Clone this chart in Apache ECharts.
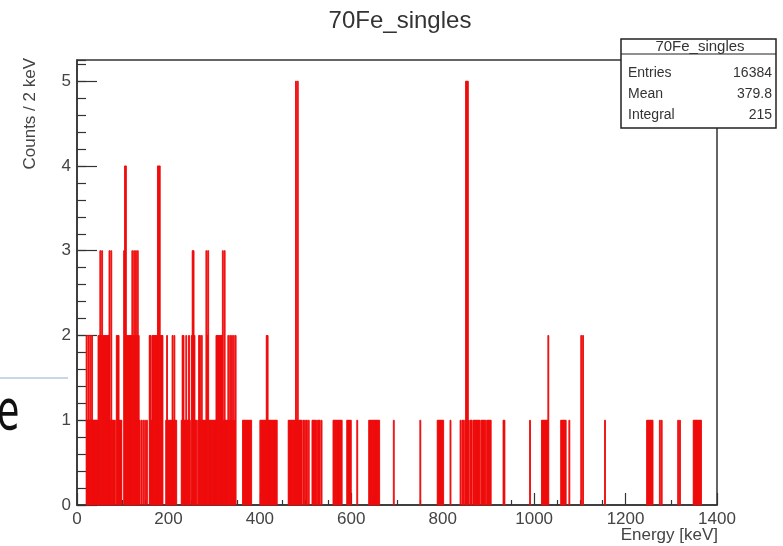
<!DOCTYPE html>
<html><head><meta charset="utf-8">
<script src="https://cdn.jsdelivr.net/npm/echarts@6/dist/echarts.min.js"></script>
<style>html,body{margin:0;padding:0;background:#fff}#c{width:783px;height:546px}</style>
</head><body><div id="c"></div>
<script>
// ---- data (bin centres in keV, 2 keV bins) ----
const chartTitle = '70Fe_singles';
const xAxisTitle = 'Energy [keV]';
const yAxisTitle = 'Counts / 2 keV';
const xMin = 0, xMax = 1400, xStep = 200;
const yMin = 0, yMax = 5.25, yStep = 1;
const binWidth = 2;

const binsCount5 = [479, 483, 851, 853, 855];
const binsCount4 = [105, 107, 177, 179, 181];
const binsCount3 = [51, 55, 71, 75, 103, 121, 125, 129, 133, 253, 255, 283, 287, 319, 323];
const binsCount2 = [21, 25, 29, 33, 47, 49, 53, 57, 59, 61, 63, 65, 67, 69, 87, 89, 91,
  109, 111, 113, 115, 117, 119, 123, 127, 131, 135,
  159, 161, 165, 167, 169, 171, 173, 175, 183, 185, 187,
  197, 209, 213, 231, 233, 239, 245, 251, 257, 267, 269, 273, 285,
  305, 307, 309, 311, 313, 315, 317, 331, 335, 339, 343, 347, 415, 417,
  1031, 1103, 1107];
const binsCount1 = [23, 27, 31, 35, 37, 39, 41, 43, 45, 73, 77, 79, 81, 83, 93, 95, 97, 137,
  141, 145, 149, 153, 163, 195, 199, 201, 203, 205, 207, 211, 215, 217,
  229, 235, 237, 241, 243, 247, 259, 261, 265, 271, 275, 277, 279, 281,
  289, 291, 293, 295, 297, 299, 301, 303, 321, 325, 327, 329, 333, 337, 341, 345,
  363, 365, 367, 369, 371, 373, 375, 377, 379, 381,
  401, 403, 405, 407, 409, 411, 413, 419, 421, 423, 425, 427, 429, 431, 433, 435, 437,
  463, 465, 467, 469, 471, 473, 475, 477, 481, 485, 487, 489, 491, 495, 497, 501, 503, 507,
  515, 517, 519, 521, 523, 527, 529, 531, 535,
  561, 563, 565, 567, 569, 571, 573, 575, 577, 579, 591, 593, 595, 597, 599, 613,
  639, 641, 643, 645, 647, 649, 651, 653, 655, 657, 659, 661, 693, 751,
  789, 791, 793, 795, 797, 799, 801, 817,
  839, 843, 845, 849, 857, 861, 863, 867, 869, 871, 873, 875, 877, 879, 881, 885, 887, 889,
  891, 893, 897, 899, 901, 903, 905, 933, 935, 991,
  1017, 1019, 1021, 1023, 1025, 1027, 1029, 1059, 1061, 1063, 1065, 1067, 1069, 1077, 1155,
  1247, 1249, 1251, 1253, 1255, 1257, 1259, 1275, 1279, 1315, 1319,
  1349, 1351, 1353, 1355, 1357, 1359, 1361, 1363, 1365];

const statsNames = ['Entries', 'Mean', 'Integral'];
const statsValues = ['16384', '379.8', '215'];

// ---- build ----
const histData = [];
[[binsCount1, 1], [binsCount2, 2], [binsCount3, 3], [binsCount4, 4], [binsCount5, 5]]
  .forEach(([arr, c]) => arr.forEach(e => histData.push([e, c])));
histData.sort((a, b) => a[0] - b[0]);

const FONT = "'Liberation Sans', Arial, sans-serif";
const TXT = '#333';

const statsGraphics = [
  { type: 'rect', shape: { x: 621, y: 39, width: 155, height: 89 }, style: { fill: '#fff', stroke: '#222', lineWidth: 1.5 }, z: 100 },
  { type: 'line', shape: { x1: 621, y1: 54, x2: 776, y2: 54 }, style: { stroke: '#222', lineWidth: 1.2 }, z: 101 },
  { type: 'text', x: 700, y: 47, z: 101, style: { text: chartTitle, font: '15px ' + FONT, fill: TXT, align: 'center', verticalAlign: 'middle' } }
];
statsNames.forEach((n, i) => {
  const y = 73 + i * 21;
  statsGraphics.push({ type: 'text', x: 628, y: y, z: 101, style: { text: n, font: '14px ' + FONT, fill: TXT, align: 'left', verticalAlign: 'middle' } });
  statsGraphics.push({ type: 'text', x: 772, y: y, z: 101, style: { text: statsValues[i], font: '14px ' + FONT, fill: TXT, align: 'right', verticalAlign: 'middle' } });
});

const chart = echarts.init(document.getElementById('c'), null, { renderer: 'canvas' });
chart.setOption({
  animation: false,
  backgroundColor: '#fff',
  title: {
    text: chartTitle, left: 395, top: 4, textAlign: 'center',
    textStyle: { fontFamily: FONT, fontSize: 24, fontWeight: 'normal', color: TXT }
  },
  grid: { left: 77, right: 66, top: 60, bottom: 41, show: true, borderColor: '#333', borderWidth: 1.5, backgroundColor: 'transparent' },
  xAxis: {
    type: 'value', min: xMin, max: xMax, interval: xStep,
    axisLine: { show: true, lineStyle: { color: '#333', width: 1.5 } },
    axisTick: { show: true, inside: true, length: 12, lineStyle: { color: '#333', width: 1.2 } },
    minorTick: { show: true, splitNumber: 4, length: 5, lineStyle: { color: '#333', width: 1.2 } },
    splitLine: { show: false },
    axisLabel: { fontFamily: FONT, fontSize: 17, color: '#444', margin: 6, formatter: v => String(v) }
  },
  yAxis: [{
    type: 'value', min: yMin, max: yMax, interval: yStep,
    axisLine: { show: true, lineStyle: { color: '#333', width: 1.5 } },
    axisTick: { show: true, inside: true, length: 20, lineStyle: { color: '#333', width: 1.2 } },
    splitLine: { show: false },
    axisLabel: { fontFamily: FONT, fontSize: 17, color: '#444', margin: 6, showMaxLabel: false }
  }, {
    type: 'value', min: yMin, max: yMax, interval: 0.2, position: 'left',
    axisLine: { show: false },
    axisTick: { show: true, inside: true, length: 9, lineStyle: { color: '#333', width: 1.2 } },
    splitLine: { show: false },
    axisLabel: { show: false }
  }],
  series: [{
    type: 'custom',
    xAxisIndex: 0, yAxisIndex: 0,
    encode: { x: 0, y: 1 },
    data: histData,
    renderItem: function (params, api) {
      const e = api.value(0), c = api.value(1);
      const p0 = api.coord([e - binWidth / 2, 0]);
      const p1 = api.coord([e + binWidth / 2, c]);
      return {
        type: 'rect',
        shape: { x: p0[0], y: p1[1], width: p1[0] - p0[0], height: p0[1] - p1[1] },
        style: { fill: '#f00000', stroke: '#ee0c0c', lineWidth: 0.9 }
      };
    }
  }],
  graphic: [
    { type: 'text', x: 30, y: 58, rotation: Math.PI / 2, style: { text: yAxisTitle, font: '17px ' + FONT, fill: '#444', align: 'right', verticalAlign: 'middle' } },
    { type: 'text', x: 718, y: 535, style: { text: xAxisTitle, font: '17px ' + FONT, fill: '#444', align: 'right', verticalAlign: 'middle' } },
    { type: 'line', shape: { x1: 0, y1: 378, x2: 68, y2: 378 }, style: { stroke: '#8fb0d0', lineWidth: 1 } },
    { type: 'text', x: -3, y: 414, scaleX: 0.65, style: { text: 'e', font: '56px "DejaVu Sans", sans-serif', fill: '#111', align: 'left', verticalAlign: 'middle' } }
  ].concat(statsGraphics)
});
</script>
</body></html>
